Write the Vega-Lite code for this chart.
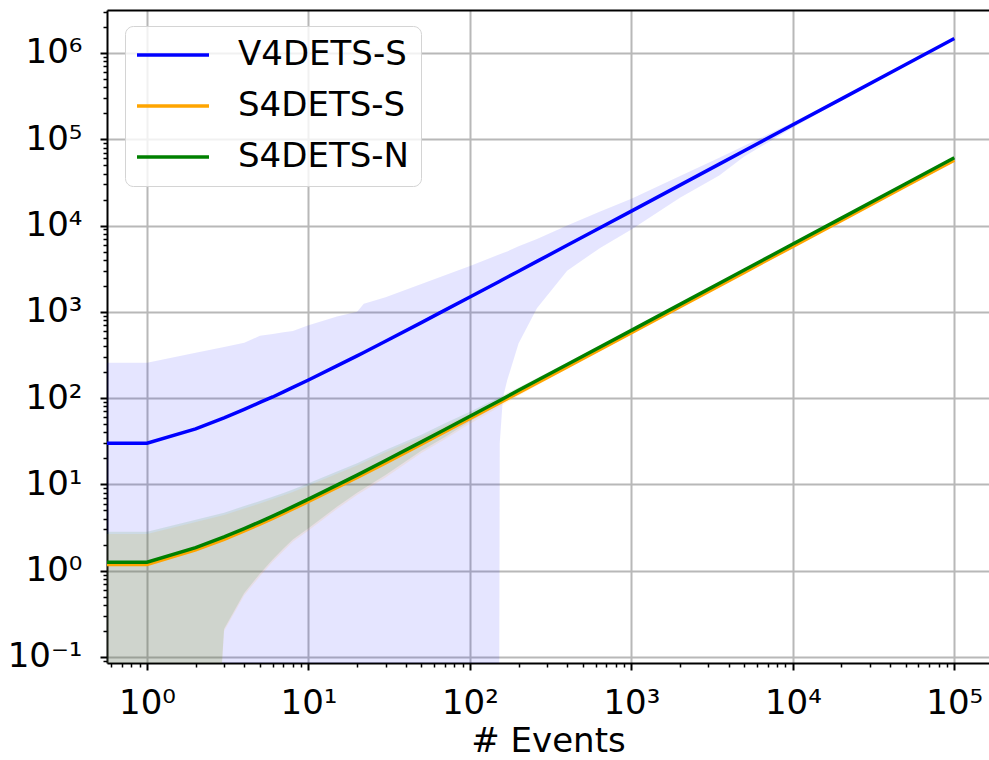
{
  "$schema": "https://vega.github.io/schema/vega-lite/v6.json",
  "autosize": {"type": "none"},
  "width": 882,
  "height": 653,
  "padding": {"left": 107, "top": 10, "right": 0, "bottom": 97},
  "background": "white",
  "config": {
    "font": "DejaVu Sans",
    "view": {"stroke": null},
    "legend": {
      "orient": "none", "legendX": 18, "legendY": 16, "title": null,
      "symbolType": "M0,0H6", "symbolSize": 576, "symbolStrokeWidth": 3.5, "symbolOffset": -17,
      "labelOffset": 84, "labelFontSize": 34, "labelFont": "DejaVu Sans", "labelColor": "black", "labelLimit": 0,
      "padding": 12, "rowPadding": 17, "fillColor": "rgba(255,255,255,0.8)", "strokeColor": "#d4d4d4", "cornerRadius": 8
    }
  },
  "data": {"values": [
    {"s":"V4DETS-S","x":0.5,"y":30,"lo":1e-6,"hi":257},
    {"s":"V4DETS-S","x":1,"y":30,"lo":1e-6,"hi":257},
    {"s":"V4DETS-S","x":2,"y":44,"lo":1e-6,"hi":335},
    {"s":"V4DETS-S","x":3,"y":59,"lo":1e-6,"hi":390},
    {"s":"V4DETS-S","x":4,"y":74,"lo":1e-6,"hi":437},
    {"s":"V4DETS-S","x":5,"y":89,"lo":1e-6,"hi":527},
    {"s":"V4DETS-S","x":6,"y":103,"lo":1e-6,"hi":555},
    {"s":"V4DETS-S","x":7,"y":118,"lo":1e-6,"hi":580},
    {"s":"V4DETS-S","x":8,"y":133,"lo":1e-6,"hi":600},
    {"s":"V4DETS-S","x":10,"y":162,"lo":1e-6,"hi":700},
    {"s":"V4DETS-S","x":15,"y":236,"lo":1e-6,"hi":880},
    {"s":"V4DETS-S","x":20,"y":309,"lo":1e-6,"hi":1000},
    {"s":"V4DETS-S","x":22,"y":338,"lo":1e-6,"hi":1240},
    {"s":"V4DETS-S","x":30,"y":456,"lo":1e-6,"hi":1480},
    {"s":"V4DETS-S","x":50,"y":750,"lo":1e-6,"hi":2100},
    {"s":"V4DETS-S","x":70,"y":1045,"lo":1e-6,"hi":2650},
    {"s":"V4DETS-S","x":100,"y":1485,"lo":1e-6,"hi":3400},
    {"s":"V4DETS-S","x":150,"y":2220,"lo":1e-6,"hi":4600},
    {"s":"V4DETS-S","x":153,"y":2265,"lo":30,"hi":4650},
    {"s":"V4DETS-S","x":160,"y":2370,"lo":100,"hi":4800},
    {"s":"V4DETS-S","x":170,"y":2515,"lo":160,"hi":5000},
    {"s":"V4DETS-S","x":200,"y":2955,"lo":430,"hi":5760},
    {"s":"V4DETS-S","x":260,"y":3840,"lo":1100,"hi":7000},
    {"s":"V4DETS-S","x":400,"y":5900,"lo":3000,"hi":10000},
    {"s":"V4DETS-S","x":640,"y":9420,"lo":5500,"hi":14500},
    {"s":"V4DETS-S","x":1000,"y":14700,"lo":9000,"hi":20500},
    {"s":"V4DETS-S","x":2000,"y":29400,"lo":21000,"hi":37600},
    {"s":"V4DETS-S","x":3500,"y":51500,"lo":38000,"hi":61000},
    {"s":"V4DETS-S","x":5000,"y":73500,"lo":63000,"hi":84000},
    {"s":"V4DETS-S","x":10000,"y":147000,"lo":136000,"hi":158000},
    {"s":"V4DETS-S","x":20000,"y":294000,"lo":283000,"hi":305000},
    {"s":"V4DETS-S","x":50000,"y":735000,"lo":720000,"hi":750000},
    {"s":"V4DETS-S","x":100000,"y":1470000,"lo":1450000,"hi":1490000},

    {"s":"S4DETS-S","x":0.5,"y":1.175,"lo":1e-6,"hi":2.66},
    {"s":"S4DETS-S","x":1,"y":1.175,"lo":1e-6,"hi":2.66},
    {"s":"S4DETS-S","x":2,"y":1.74,"lo":1e-6,"hi":3.67},
    {"s":"S4DETS-S","x":3,"y":2.31,"lo":0.2,"hi":4.42},
    {"s":"S4DETS-S","x":4,"y":2.89,"lo":0.52,"hi":5.26},
    {"s":"S4DETS-S","x":5,"y":3.46,"lo":0.86,"hi":6.02},
    {"s":"S4DETS-S","x":6,"y":4.03,"lo":1.27,"hi":6.77},
    {"s":"S4DETS-S","x":7,"y":4.61,"lo":1.69,"hi":7.47},
    {"s":"S4DETS-S","x":8,"y":5.18,"lo":2.16,"hi":8.18},
    {"s":"S4DETS-S","x":10,"y":6.33,"lo":2.91,"hi":9.68},
    {"s":"S4DETS-S","x":15,"y":9.21,"lo":5.17,"hi":13.25},
    {"s":"S4DETS-S","x":20,"y":12.03,"lo":7.52,"hi":16.54},
    {"s":"S4DETS-S","x":30,"y":17.77,"lo":12.03,"hi":23.5},
    {"s":"S4DETS-S","x":50,"y":29.23,"lo":23.12,"hi":35.34},
    {"s":"S4DETS-S","x":70,"y":40.7,"lo":33.37,"hi":47.94},
    {"s":"S4DETS-S","x":100,"y":57.9,"lo":50.48,"hi":65.33},
    {"s":"S4DETS-S","x":150,"y":86.5,"lo":78.0,"hi":94.9},
    {"s":"S4DETS-S","x":200,"y":115.6,"lo":106.2,"hi":125},
    {"s":"S4DETS-S","x":400,"y":230.3,"lo":218.1,"hi":242.5},
    {"s":"S4DETS-S","x":1000,"y":573.4,"lo":554.6,"hi":592.2},
    {"s":"S4DETS-S","x":2000,"y":1147,"lo":1123,"hi":1170},
    {"s":"S4DETS-S","x":5000,"y":2867,"lo":2829,"hi":2905},
    {"s":"S4DETS-S","x":10000,"y":5734,"lo":5678,"hi":5790},
    {"s":"S4DETS-S","x":20000,"y":11468,"lo":11383,"hi":11553},
    {"s":"S4DETS-S","x":50000,"y":28670,"lo":28538,"hi":28802},
    {"s":"S4DETS-S","x":100000,"y":57340,"lo":57152,"hi":57528},

    {"s":"S4DETS-N","x":0.5,"y":1.25,"lo":1e-6,"hi":2.83},
    {"s":"S4DETS-N","x":1,"y":1.25,"lo":1e-6,"hi":2.83},
    {"s":"S4DETS-N","x":2,"y":1.85,"lo":1e-6,"hi":3.9},
    {"s":"S4DETS-N","x":3,"y":2.46,"lo":0.21,"hi":4.7},
    {"s":"S4DETS-N","x":4,"y":3.07,"lo":0.55,"hi":5.6},
    {"s":"S4DETS-N","x":5,"y":3.68,"lo":0.92,"hi":6.4},
    {"s":"S4DETS-N","x":6,"y":4.29,"lo":1.35,"hi":7.2},
    {"s":"S4DETS-N","x":7,"y":4.9,"lo":1.8,"hi":7.95},
    {"s":"S4DETS-N","x":8,"y":5.51,"lo":2.3,"hi":8.7},
    {"s":"S4DETS-N","x":10,"y":6.73,"lo":3.1,"hi":10.3},
    {"s":"S4DETS-N","x":15,"y":9.8,"lo":5.5,"hi":14.1},
    {"s":"S4DETS-N","x":20,"y":12.8,"lo":8.0,"hi":17.6},
    {"s":"S4DETS-N","x":30,"y":18.9,"lo":12.8,"hi":25},
    {"s":"S4DETS-N","x":50,"y":31.1,"lo":24.6,"hi":37.6},
    {"s":"S4DETS-N","x":70,"y":43.3,"lo":35.5,"hi":51},
    {"s":"S4DETS-N","x":100,"y":61.6,"lo":53.7,"hi":69.5},
    {"s":"S4DETS-N","x":150,"y":92,"lo":83,"hi":101},
    {"s":"S4DETS-N","x":200,"y":123,"lo":113,"hi":133},
    {"s":"S4DETS-N","x":400,"y":245,"lo":232,"hi":258},
    {"s":"S4DETS-N","x":1000,"y":610,"lo":590,"hi":630},
    {"s":"S4DETS-N","x":2000,"y":1220,"lo":1195,"hi":1245},
    {"s":"S4DETS-N","x":5000,"y":3050,"lo":3010,"hi":3090},
    {"s":"S4DETS-N","x":10000,"y":6100,"lo":6040,"hi":6160},
    {"s":"S4DETS-N","x":20000,"y":12200,"lo":12110,"hi":12290},
    {"s":"S4DETS-N","x":50000,"y":30500,"lo":30360,"hi":30640},
    {"s":"S4DETS-N","x":100000,"y":61000,"lo":60800,"hi":61200}
  ]},
  "resolve": {"axis": {"x": "independent", "y": "independent"}},
  "layer": [
    {
      "transform": [{"filter": "datum.s == 'V4DETS-S'"}],
      "mark": {"type": "area", "clip": true, "fill": "#0000ff", "fillOpacity": 0.1},
      "encoding": {
        "x": {"field": "x", "type": "quantitative",
          "scale": {"type": "log", "domain": [0.565, 164000], "nice": false, "zero": false},
          "axis": {"orient": "bottom", "values": [1,10,100,1000,10000,100000],
            "labelExpr": "['10⁰','10¹','10²','10³','10⁴','10⁵'][round(log(datum.value)/LN10)]",
            "labelFontSize": 34, "labelColor": "black", "labelPadding": 16, "labelFlush": false, "labelOverlap": false,
            "tickSize": 7, "tickWidth": 2, "tickColor": "black",
            "domainColor": "black", "domainWidth": 2,
            "grid": true, "gridColor": "#b8b8b8", "gridWidth": 2,
            "title": "# Events", "titleFontSize": 34, "titleFontWeight": "normal", "titleColor": "black", "titlePadding": 4}},
        "y": {"field": "hi", "type": "quantitative",
          "scale": {"type": "log", "domain": [0.085, 3150000], "nice": false, "zero": false},
          "axis": {"orient": "left", "values": [0.1,1,10,100,1000,10000,100000,1000000],
            "labelExpr": "['10⁻¹','10⁰','10¹','10²','10³','10⁴','10⁵','10⁶'][round(log(datum.value)/LN10)+1]",
            "labelFontSize": 34, "labelColor": "black", "labelPadding": 18, "labelFlush": false, "labelOverlap": false,
            "tickSize": 7, "tickWidth": 2, "tickColor": "black",
            "domainColor": "black", "domainWidth": 2,
            "grid": true, "gridColor": "#b8b8b8", "gridWidth": 2, "title": null}},
        "y2": {"field": "lo"}
      }
    },
    {
      "transform": [{"filter": "datum.s == 'S4DETS-S'"}],
      "mark": {"type": "area", "clip": true, "fill": "#ffa500", "fillOpacity": 0.1},
      "encoding": {
        "x": {"field": "x", "type": "quantitative", "axis": null},
        "y": {"field": "hi", "type": "quantitative", "axis": null},
        "y2": {"field": "lo"}
      }
    },
    {
      "transform": [{"filter": "datum.s == 'S4DETS-N'"}],
      "mark": {"type": "area", "clip": true, "fill": "#008000", "fillOpacity": 0.1},
      "encoding": {
        "x": {"field": "x", "type": "quantitative", "axis": null},
        "y": {"field": "hi", "type": "quantitative", "axis": null},
        "y2": {"field": "lo"}
      }
    },
    {
      "transform": [{"filter": "datum.s == 'V4DETS-S'"}],
      "mark": {"type": "line", "clip": true, "strokeWidth": 3.5},
      "encoding": {
        "x": {"field": "x", "type": "quantitative",
          "axis": {"orient": "bottom", "values": [0.6,0.7,0.8,0.9,2,3,4,5,6,7,8,9,20,30,40,50,60,70,80,90,200,300,400,500,600,700,800,900,2000,3000,4000,5000,6000,7000,8000,9000,20000,30000,40000,50000,60000,70000,80000,90000],
            "labels": false, "tickSize": 4, "tickWidth": 1.5, "tickColor": "black", "domain": false, "grid": false, "title": null}},
        "y": {"field": "y", "type": "quantitative",
          "axis": {"orient": "left", "values": [0.09,0.2,0.3,0.4,0.5,0.6,0.7,0.8,0.9,2,3,4,5,6,7,8,9,20,30,40,50,60,70,80,90,200,300,400,500,600,700,800,900,2000,3000,4000,5000,6000,7000,8000,9000,20000,30000,40000,50000,60000,70000,80000,90000,200000,300000,400000,500000,600000,700000,800000,900000,2000000,3000000],
            "labels": false, "tickSize": 4, "tickWidth": 1.5, "tickColor": "black", "domain": false, "grid": false, "title": null}},
        "color": {"field": "s", "type": "nominal",
          "scale": {"domain": ["V4DETS-S","S4DETS-S","S4DETS-N"], "range": ["#0000ff","#ffa500","#008000"]},
          "legend": {"orient": "none", "legendX": 18, "legendY": 16}}
      }
    },
    {
      "transform": [{"filter": "datum.s == 'S4DETS-S'"}],
      "mark": {"type": "line", "clip": true, "strokeWidth": 3.5},
      "encoding": {
        "x": {"field": "x", "type": "quantitative",
          "axis": {"orient": "top", "labels": false, "ticks": false, "domain": true, "domainColor": "black", "domainWidth": 2, "grid": false, "title": null}},
        "y": {"field": "y", "type": "quantitative", "axis": null},
        "color": {"field": "s", "type": "nominal",
          "scale": {"domain": ["V4DETS-S","S4DETS-S","S4DETS-N"], "range": ["#0000ff","#ffa500","#008000"]},
          "legend": {"orient": "none", "legendX": 18, "legendY": 16}}
      }
    },
    {
      "transform": [{"filter": "datum.s == 'S4DETS-N'"}],
      "mark": {"type": "line", "clip": true, "strokeWidth": 3.5},
      "encoding": {
        "x": {"field": "x", "type": "quantitative", "axis": null},
        "y": {"field": "y", "type": "quantitative", "axis": null},
        "color": {"field": "s", "type": "nominal",
          "scale": {"domain": ["V4DETS-S","S4DETS-S","S4DETS-N"], "range": ["#0000ff","#ffa500","#008000"]},
          "legend": {"orient": "none", "legendX": 18, "legendY": 16}}
      }
    }
  ]
}
